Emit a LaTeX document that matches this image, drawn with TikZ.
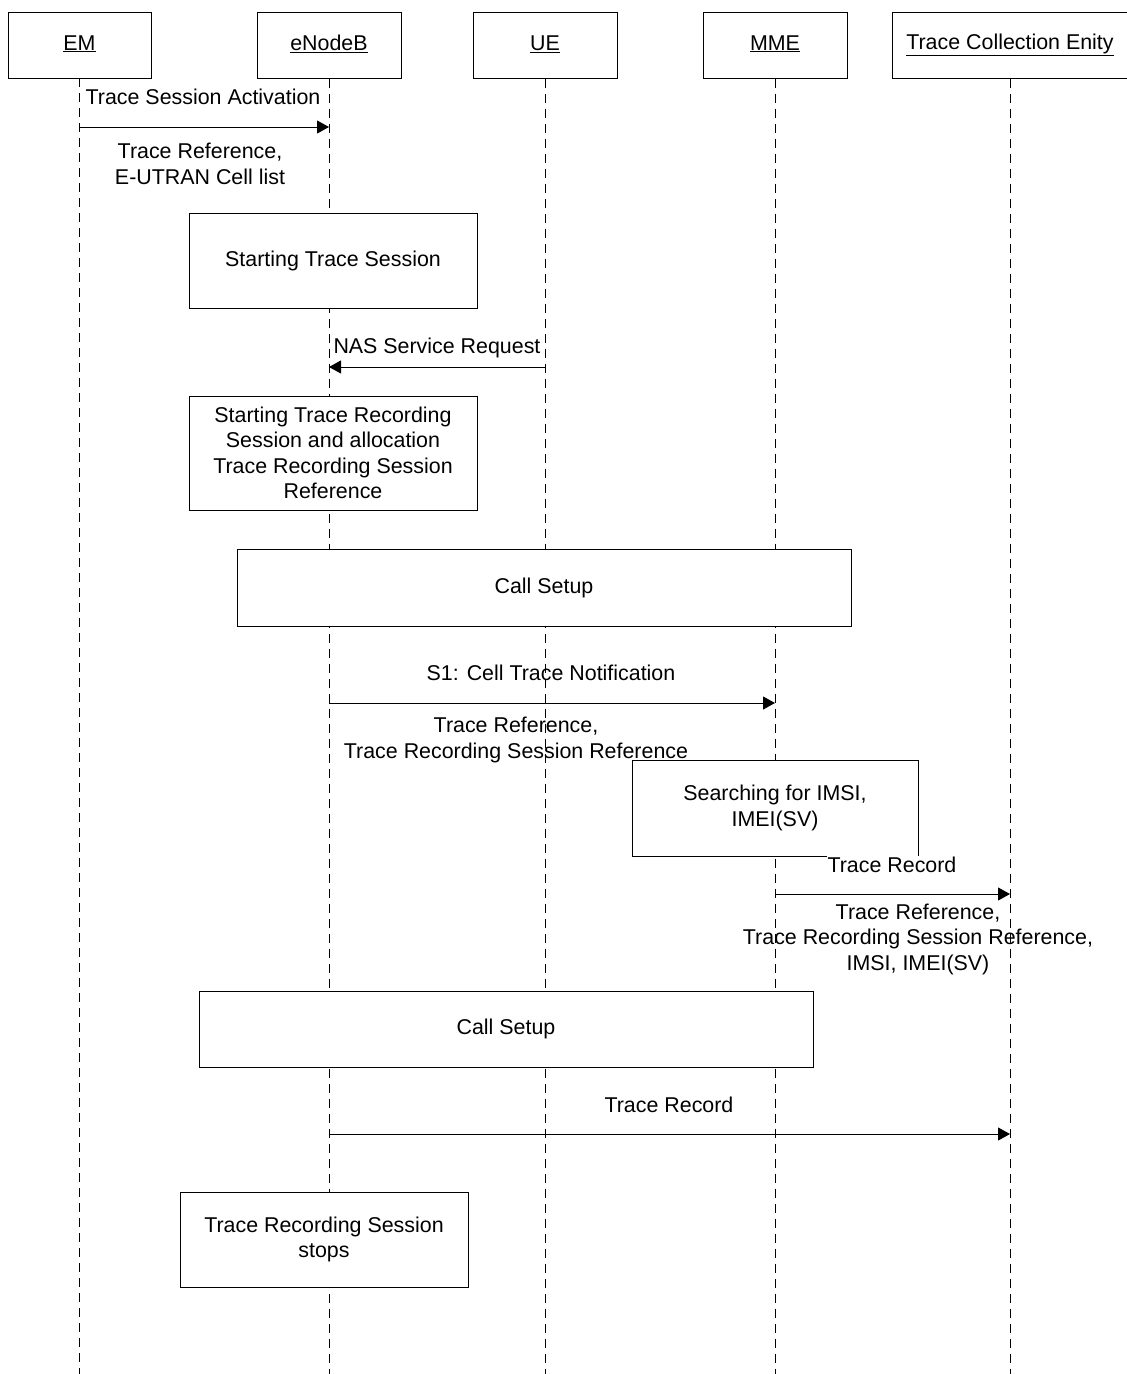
\documentclass[tikz,border=0pt]{standalone}
\usepackage{fontspec}
\setmainfont{Liberation Sans}
\usetikzlibrary{arrows.meta}
\newcommand{\hd}[1]{\vphantom{Ty}\underline{#1}}
\begin{document}
\begin{tikzpicture}[x=1pt,y=-1pt,
  txt/.style={font=\fontsize{21.4}{25.5}\selectfont, align=center, inner sep=0pt},
  head/.style={txt, draw, line width=1pt, fill=white, minimum height=66pt},
  box/.style={txt, draw, line width=1pt, fill=white},
  life/.style={line width=1pt, dash pattern=on 9pt off 6pt},
  msg/.style={line width=1pt, -{Triangle[length=12pt,width=13pt]}},
  lbl/.style={txt}
]
\useasboundingbox (0,0) rectangle (1127,1374);
% heads
\node[head, minimum width=143pt] (em) at (79.5,45) {\hd{EM}};
\node[head, minimum width=144pt] (enb) at (329,45) {\hd{eNodeB}};
\node[head, minimum width=144pt] (ue) at (545,45) {\hd{UE}};
\node[head, minimum width=144pt] (mme) at (775,45) {\hd{MME}};
\node[head, minimum width=236pt] (tce) at (1010,45) {\hd{Trace Collection Enity}};
% lifeline ends
\coordinate (emB) at (79,1374);
\coordinate (enbB) at (329,1374);
\coordinate (ueB) at (545,1374);
\coordinate (mmeB) at (775,1374);
\coordinate (tceB) at (1010,1374);
\draw[life] (79,78) -- (emB);
\draw[life] (enb.south) -- (enbB);
\draw[life] (ue.south) -- (ueB);
\draw[life] (mme.south) -- (mmeB);
\draw[life] (tce.south) -- (tceB);
% message points
\coordinate (m1s) at (79,127);
\coordinate (m1e) at (329,127);
\coordinate (m2s) at (545,367);
\coordinate (m2e) at (329,367);
\coordinate (m3s) at (329,703);
\coordinate (m3e) at (775,703);
\coordinate (m4s) at (775,894);
\coordinate (m4e) at (1010,894);
\coordinate (m5s) at (329,1134);
\coordinate (m5e) at (1010,1134);
% boxes
\node[box, minimum width=288pt, minimum height=95pt] (sts) at (333,260.5) {Starting Trace Session};
\node[box, minimum width=288pt, minimum height=114pt] (str) at (333,453) {Starting Trace Recording\\Session and allocation\\Trace Recording Session\\Reference};
\node[box, minimum width=614pt, minimum height=77pt] (cs1) at (544,587.5) {Call Setup};
\node[box, minimum width=286pt, minimum height=96pt] (sea) at (775,808) {Searching for IMSI,\\IMEI(SV)};
\node[box, minimum width=614pt, minimum height=76pt] (cs2) at (506,1029) {Call Setup};
\node[box, minimum width=288pt, minimum height=95pt] (stop) at (324,1239.5) {Trace Recording Session\\stops};
% messages
\draw[msg] (m1s) -- (m1e);
\draw[msg] (m2s) -- (m2e);
\draw[msg] (m3s) -- (m3e);
\draw[msg] (m4s) -- (m4e);
\draw[msg] (m5s) -- (m5e);
% labels
\node[lbl] (l1) at (203,97) {Trace Session Activation};
\node[lbl] (l1b) at (200,164) {Trace Reference,\\E-UTRAN Cell list};
\node[lbl] (l2) at (437,348) {NAS Service Request};
\node[lbl] (l3) at (551,673) {S1: Cell Trace Notification};
\node[lbl] (l3b) at (516,740) {Trace Reference,\\Trace Recording Session Reference};
\node[lbl, fill=white, inner sep=1pt] (l4) at (892,865) {Trace Record};
\node[lbl] (l4b) at (918,939) {Trace Reference,\\Trace Recording Session Reference,\\IMSI, IMEI(SV)};
\node[lbl] (l5) at (669,1105) {Trace Record};
\end{tikzpicture}
\end{document}
